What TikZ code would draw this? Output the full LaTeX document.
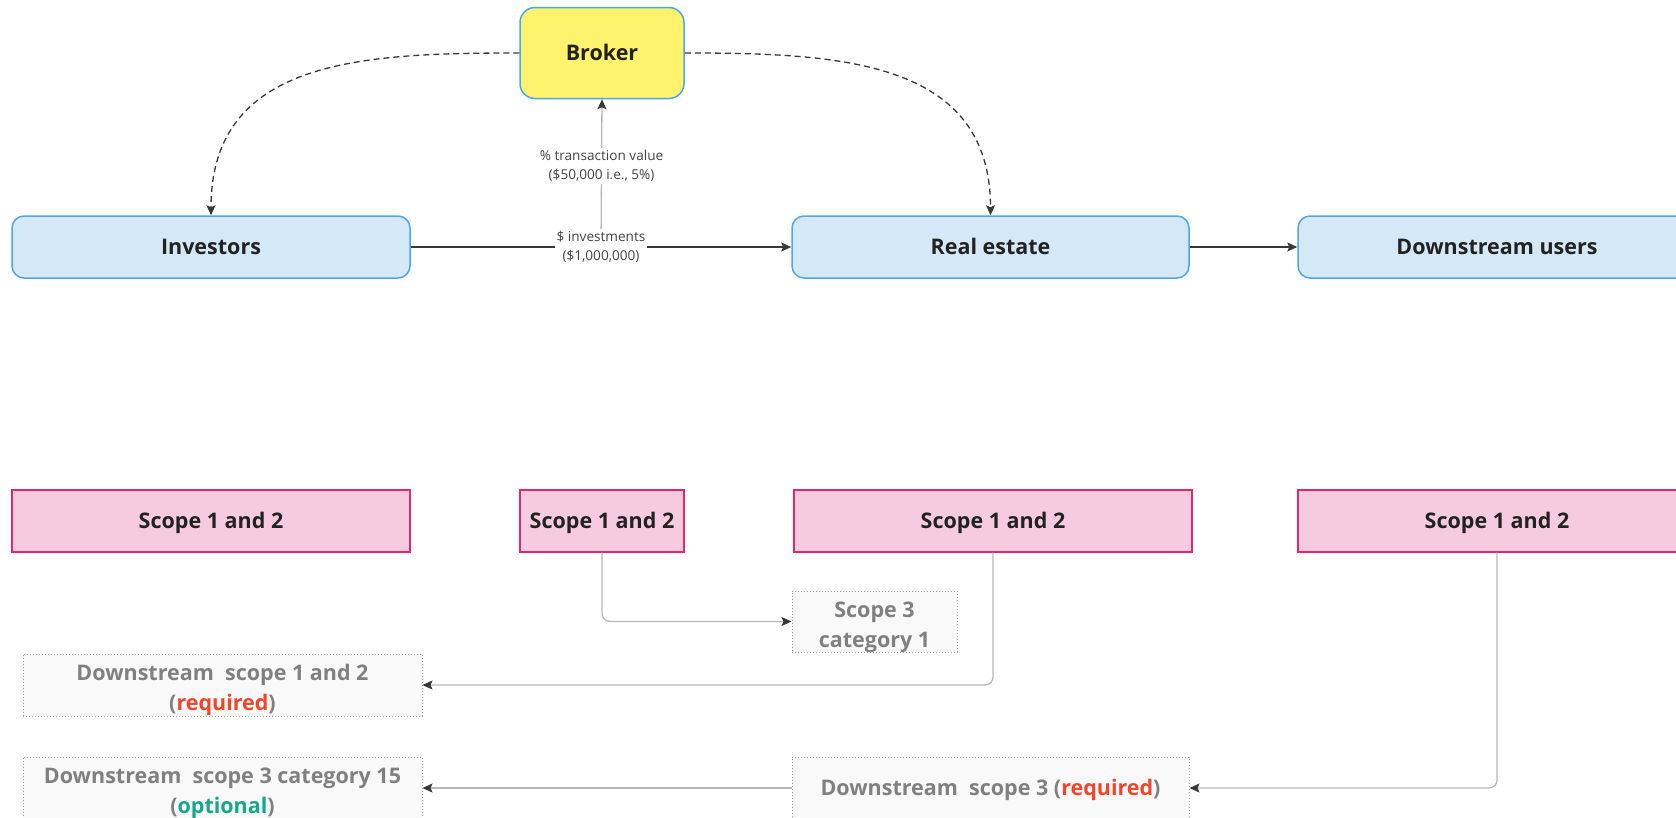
\documentclass[tikz,border=0pt]{standalone}
\usepackage{fontspec}
\setmainfont{Open Sans}
\usetikzlibrary{arrows.meta,calc}
\definecolor{bluefill}{HTML}{D5E8F8}
\definecolor{blueline}{HTML}{4DA6EC}
\definecolor{brokerfill}{HTML}{FFF36E}
\definecolor{pinkfill}{HTML}{F6CBE0}
\definecolor{pinkline}{HTML}{E3276F}
\definecolor{dotfill}{HTML}{F9F9F9}
\definecolor{dotline}{HTML}{9A9A9A}
\definecolor{greytext}{HTML}{808080}
\definecolor{darktext}{HTML}{222222}
\definecolor{labeltext}{HTML}{444444}
\definecolor{linkdark}{HTML}{383838}
\definecolor{linklight}{HTML}{B8B8B8}
\definecolor{reqred}{HTML}{F1462C}
\definecolor{optgreen}{HTML}{14A88A}
\tikzset{
  % single-line labels: capitals centred in the box
  boxtext/.style={font=\fontsize{21.5}{28}\selectfont\bfseries, text=darktext, align=center, inner sep=0pt, text height=15.4pt, text depth=0pt},
  entity/.style={boxtext, draw=blueline, fill=bluefill, line width=1.5pt, rounded corners=12pt, minimum width=398pt, minimum height=62pt},
  brokerbox/.style={boxtext, draw=blueline, fill=brokerfill, line width=1.5pt, rounded corners=15pt, minimum width=164pt, minimum height=91pt},
  scopebox/.style={boxtext, draw=pinkline, fill=pinkfill, line width=1.3pt, minimum height=62pt},
  dotbox/.style={draw=dotline, fill=dotfill, dotted, line width=1pt, minimum height=62pt, inner sep=0pt},
  dottext/.style={font=\fontsize{21.5}{30}\selectfont\bfseries, text=greytext, align=center, inner sep=0pt},
  tip/.style={-{Stealth[length=10pt,width=9pt,inset=2pt,color=linkdark]}},
  darklink/.style={tip, draw=linkdark, line width=1.3pt},
  lightlink/.style={tip, draw=linklight, line width=1.3pt},
  dashlink/.style={tip, draw=linkdark, line width=1.3pt, dash pattern=on 6pt off 4pt},
  flowlabel/.style={font=\fontsize{13.6}{19.5}\selectfont, text=labeltext, fill=white, align=center, inner sep=2pt},
}
\newcommand{\req}{\textcolor{reqred}{required}}
\newcommand{\opt}{\textcolor{optgreen}{optional}}
\begin{document}
\begin{tikzpicture}[x=1pt,y=-1pt]
\clip (0,0) rectangle (1676,817);
\fill[white] (0,0) rectangle (1676,817);

% value chain
\node[brokerbox] (broker) at (602,53) {Broker};
\node[entity] (inv) at (211,247) {Investors};
\node[entity, minimum width=397pt] (re) at (990.5,247) {Real estate};
\node[entity] (du) at (1497,247) {Downstream users};

% emissions scopes
\node[scopebox, minimum width=398pt] (s1) at (211,521) {Scope 1 and 2};
\node[scopebox, minimum width=164pt] (s2) at (602,521) {Scope 1 and 2};
\node[scopebox, minimum width=398pt] (s3) at (993,521) {Scope 1 and 2};
\node[scopebox, minimum width=398pt] (s4) at (1497,521) {Scope 1 and 2};

% scope 3 boxes
\node[dotbox, minimum width=165pt, minimum height=61pt] (cat1) at (874.5,621.5) {};
\node[dottext] (cat1t) at ([yshift=-6pt]cat1.center) {Scope 3\\category 1};
\node[dotbox, minimum width=399pt] (ds12) at (222.5,685) {};
\node[dottext] (ds12t) at ([yshift=-5pt]ds12.center) {Downstream\ \ scope 1 and 2\\(\req)};
\node[dotbox, minimum width=399pt] (ds15) at (222.5,788) {};
\node[dottext] (ds15t) at ([yshift=-5pt]ds15.center) {Downstream\ \ scope 3 category 15\\(\opt)};
\node[dotbox, minimum width=397pt] (ds3) at (990.5,788) {};
\node[dottext, text height=15.4pt, text depth=0pt] (ds3t) at (ds3.center) {Downstream\ \ scope 3 (\req)};

% broker relations
\draw[dashlink] (broker.west) to[out=180,in=90,looseness=1.15] (inv.north);
\draw[dashlink] (broker.east) to[out=0,in=90,looseness=1.15] (re.north);

% money flows
\coordinate (fork) at ($(inv.east)!0.5!(re.west)$);
\draw[lightlink] (fork) -- node[flowlabel, pos=0.55] {\% transaction value\\(\$50,000 i.e., 5\%)} (broker.south);
\draw[darklink] (inv.east) -- node[flowlabel] {\$ investments\\(\$1,000,000)} (re.west);
\draw[darklink] (re.east) -- (du.west);

% scope links
\draw[lightlink, rounded corners=8pt] (s2.south) |- (cat1.west);
\draw[lightlink, rounded corners=8pt] (s3.south) |- (ds12.east);
\draw[lightlink, rounded corners=8pt] (s4.south) |- (ds3.east);
\draw[lightlink] (ds3.west) -- (ds15.east);
\end{tikzpicture}
\end{document}
